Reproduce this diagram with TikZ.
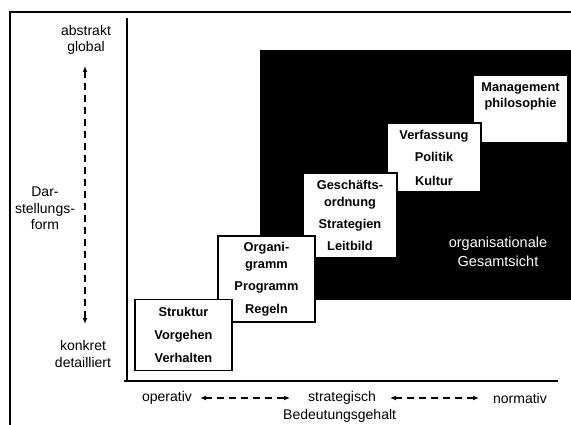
\documentclass[tikz,border=0pt]{standalone}
\usepackage{fontspec}
\setmainfont{Liberation Sans}
\usetikzlibrary{arrows.meta}
\begin{document}
\begin{tikzpicture}[x=1pt,y=-1pt,
  stepbox/.style={draw=black, line width=1.4pt, fill=white, inner sep=0pt, align=center,
    font=\bfseries\fontsize{12.8}{17}\selectfont},
  boxtext/.style={inner sep=0pt, align=center, font=\bfseries\fontsize{12.8}{16}\selectfont},
  axlabel/.style={inner sep=0pt, align=center, font=\fontsize{14}{16.5}\selectfont},
  dasharrow/.style={line width=1.3pt, dash pattern=on 7pt off 5pt,
    {Latex[length=6pt,width=5pt]}-{Latex[length=6pt,width=5pt]}},
  axis/.style={line width=2.2pt},
  frame/.style={line width=2pt}]
\useasboundingbox (0,0) rectangle (571,425);
\clip (0,0) rectangle (571,425);
% outer frame
\coordinate (ftl) at (10,12);
\coordinate (ftr) at (572,12);
\coordinate (fbl) at (10,426);
\draw[frame] (fbl) -- (ftl) -- (ftr);
% axes
\coordinate (yaxtop) at (127,18);
\coordinate (origin) at (127,381);
\coordinate (xaxend) at (558,381);
\draw[axis] (yaxtop) -- (origin);
\draw[axis] (124,381) -- (xaxend);
% black field
\node[fill=black, inner sep=0pt, minimum width=312pt, minimum height=250pt] (field) at (416,175) {};
% boxes (upper right first, lower left on top)
\node[stepbox, minimum width=95pt, minimum height=68pt] (mgmt) at (520.5,109) {};
\node[boxtext] (mgmttext) at (520.5,96) {Management\\philosophie};
\node[stepbox, minimum width=94pt, minimum height=69pt] (verf) at (434,157.5)
  {Verfassung\\[5.5pt]Politik\\[6.5pt]Kultur};
\node[stepbox, minimum width=94pt, minimum height=85pt] (gesch) at (350,215.5)
  {Geschäfts-\\ordnung\\[5pt]Strategien\\[5pt]Leitbild};
\node[stepbox, minimum width=97pt, minimum height=86pt] (organi) at (266.5,279)
  {Organi-\\gramm\\[5pt]Programm\\[6pt]Regeln};
\node[stepbox, minimum width=97pt, minimum height=71pt] (struk) at (183.5,335)
  {Struktur\\[6pt]Vorgehen\\[6pt]Verhalten};
% text in black field
\node[axlabel, text=white, font=\fontsize{14.5}{19}\selectfont] (gesamt) at (498,252)
  {organisationale\\Gesamtsicht};
% vertical axis labels
\node[axlabel] (abstrakt) at (86,40) {abstrakt\\global};
\node[axlabel] (darst) at (45,208.5) {Dar-\\stellungs-\\form};
\node[axlabel] (konkret) at (83,354) {konkret\\detailliert};
\coordinate (vtop) at (85,66);
\coordinate (vbot) at (85,324);
\draw[dasharrow] (vtop) -- (vbot);
% horizontal axis labels
\node[axlabel] (operativ) at (167,398) {operativ};
\node[axlabel] (strat) at (342,398) {strategisch};
\node[axlabel] (normativ) at (520,398) {normativ};
\node[axlabel, anchor=west] (bedeutung) at (283,416) {Bedeutungsgehalt};
\coordinate (h1a) at (200,398);
\coordinate (h1b) at (290,398);
\coordinate (h2a) at (390,398);
\coordinate (h2b) at (479,398);
\draw[dasharrow] (h1a) -- (h1b);
\draw[dasharrow] (h2a) -- (h2b);
\end{tikzpicture}
\end{document}
